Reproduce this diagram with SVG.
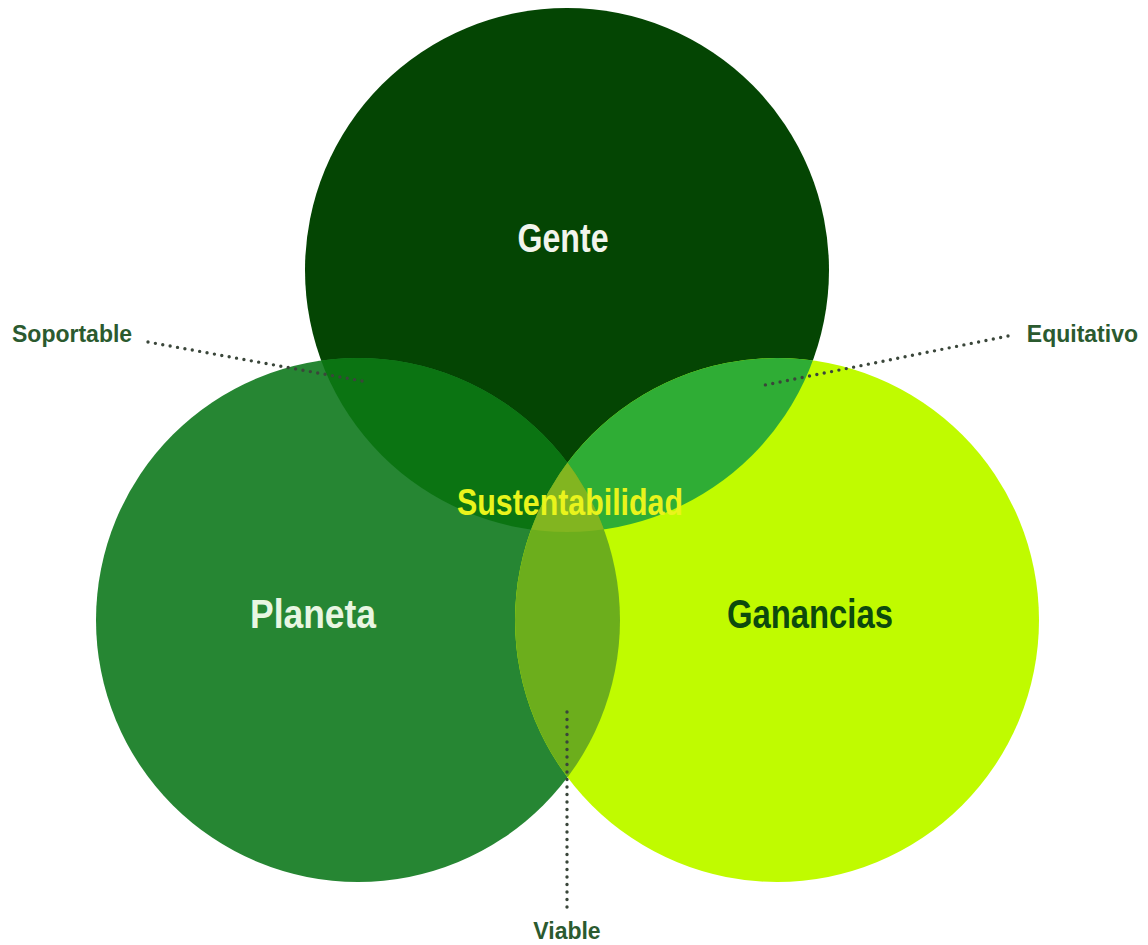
<svg xmlns="http://www.w3.org/2000/svg" width="1148" height="945" viewBox="0 0 1148 945">
<style>
.big{font-family:"Liberation Sans Narrow","Liberation Sans",Arial,sans-serif;font-size:41px;font-weight:bold;text-anchor:middle}
.lbl{font-family:"Liberation Sans Narrow","Liberation Sans",Arial,sans-serif;font-size:23px;font-weight:bold;fill:#2b5a2f}
.dot{fill:none;stroke:#3a463a;stroke-width:3.4;stroke-linecap:round;stroke-dasharray:0 7.5}
</style>
<defs>
<clipPath id="cG"><circle cx="567" cy="270" r="262"/></clipPath>
<clipPath id="cP"><circle cx="358" cy="620" r="262"/></clipPath>
</defs>
<rect width="1148" height="945" fill="#ffffff"/>
<g id="gente"><circle cx="567" cy="270" r="262" fill="#044503"/></g>
<g id="planeta"><circle cx="358" cy="620" r="262" fill="#268633"/></g>
<g id="ganancias"><circle cx="777" cy="620" r="262" fill="#c0fb00"/></g>
<g id="overlaps">
<circle cx="358" cy="620" r="262" fill="#0b7412" clip-path="url(#cG)"/>
<circle cx="777" cy="620" r="262" fill="#2fad35" clip-path="url(#cG)"/>
<circle cx="777" cy="620" r="262" fill="#6cae1c" clip-path="url(#cP)"/>
<g clip-path="url(#cG)"><circle cx="777" cy="620" r="262" fill="#82b520" clip-path="url(#cP)"/></g>
</g>
<g id="connectors">
<path class="dot" d="M148 342 L362 381"/>
<path class="dot" d="M1008 336 L765 385"/>
<path class="dot" d="M567 712 L567 912"/>
</g>
<g id="t-gente"><text class="big" x="563" y="252" fill="#f2f4ec" textLength="91" lengthAdjust="spacingAndGlyphs">Gente</text></g>
<g id="t-planeta"><text class="big" x="313" y="628" fill="#e8f6e2" textLength="126" lengthAdjust="spacingAndGlyphs">Planeta</text></g>
<g id="t-ganancias"><text class="big" x="810" y="628" fill="#0d4a0d" textLength="166" lengthAdjust="spacingAndGlyphs">Ganancias</text></g>
<g id="t-sust"><text class="big" x="570" y="515" fill="#e9f41c" style="font-size:37px" textLength="226" lengthAdjust="spacingAndGlyphs">Sustentabilidad</text></g>
<g id="t-soportable"><text class="lbl" x="12" y="342">Soportable</text></g>
<g id="t-equitativo"><text class="lbl" x="1138" y="342" text-anchor="end">Equitativo</text></g>
<g id="t-viable"><text class="lbl" x="567" y="939" text-anchor="middle">Viable</text></g>
</svg>
